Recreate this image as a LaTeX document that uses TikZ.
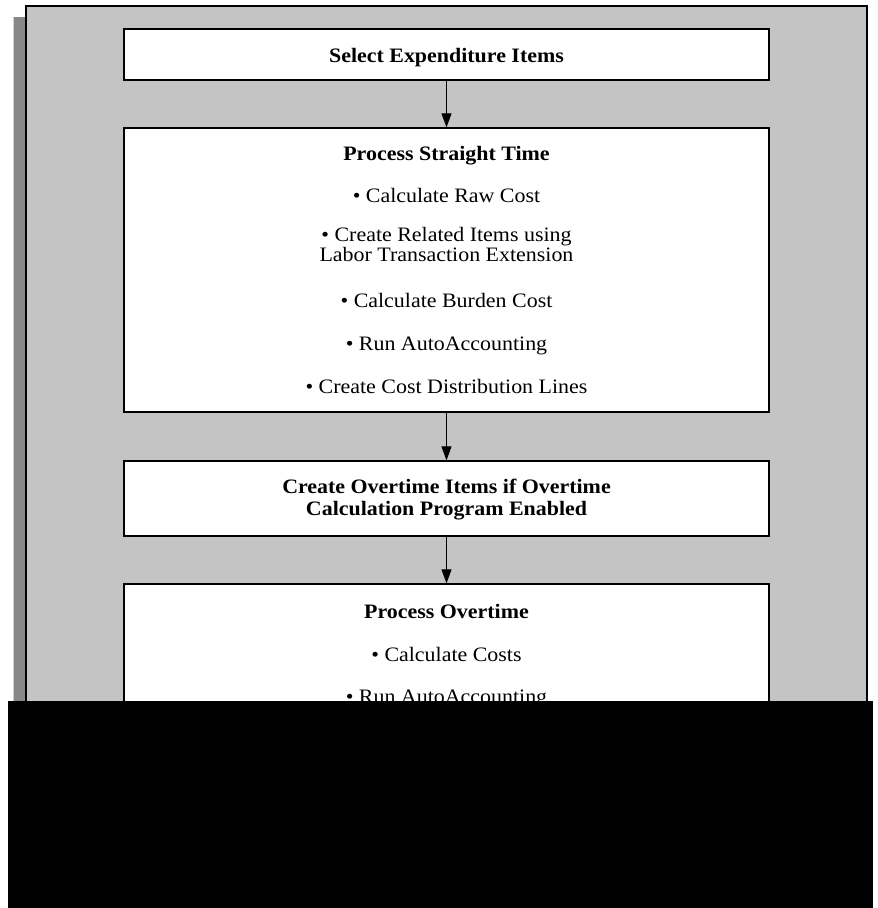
\documentclass[tikz,border=0pt]{standalone}
\usepackage{fontspec}
\setmainfont{Liberation Serif}[FakeStretch=1.07]
\usetikzlibrary{arrows.meta}
\definecolor{panelgray}{HTML}{C4C4C4}
\definecolor{shadowgray}{HTML}{888888}
\definecolor{rimgray}{HTML}{D0D0D0}
\begin{document}
\begin{tikzpicture}[x=1pt,y=-1pt,
  stepbox/.style={draw=black,line width=1.3pt,fill=white,minimum width=645pt,inner sep=0pt},
  title/.style={font=\fontsize{20.5}{22}\selectfont\bfseries,anchor=base,inner sep=0pt},
  item/.style={font=\fontsize{20.5}{22}\selectfont,anchor=base,inner sep=0pt},
  flow/.style={-{Triangle[length=14pt,width=10pt]},line width=0.9pt}]
\useasboundingbox (0,0) rectangle (878,908);

% drop shadow and grey panel
\fill[shadowgray] (13,17) rectangle (25,701);
\fill[rimgray] (12.5,17) rectangle (14,701);
\draw[line width=2.5pt,fill=panelgray] (26,6) rectangle (867,720);

% process boxes
\node[stepbox,minimum height=51pt]  (sel) at (446.5,54.5) {};
\node[stepbox,minimum height=284pt] (pst) at (446.5,270) {};
\node[stepbox,minimum height=75pt]  (cot) at (446.5,498.5) {};
\node[stepbox,minimum height=196pt] (pot) at (446.5,682) {};

% box texts
\node[title] (selT) at (446.5,62) {Select Expenditure Items};

\node[title] (pstT) at (446.5,160) {Process Straight Time};
\node[item] (pst1) at (446.5,202) {\textbullet{} Calculate Raw Cost};
\node[item,align=center,font=\fontsize{20.5}{18}\selectfont] (pst2) at (446.5,261)
  {\textbullet{} Create Related Items using\\Labor Transaction Extension};
\node[item] (pst4) at (446.5,307) {\textbullet{} Calculate Burden Cost};
\node[item] (pst5) at (446.5,350) {\textbullet{} Run AutoAccounting};
\node[item] (pst6) at (446.5,393) {\textbullet{} Create Cost Distribution Lines};

\node[title,align=center,font=\fontsize{20.5}{22}\selectfont\bfseries] (cot1) at (446.5,515)
  {Create Overtime Items if Overtime\\Calculation Program Enabled};

\node[title] (potT) at (446.5,618) {Process Overtime};
\node[item] (pot1) at (446.5,661) {\textbullet{} Calculate Costs};
\node[item] (pot2) at (446.5,703) {\textbullet{} Run AutoAccounting};

% connectors
\draw[flow] (sel.south) -- (pst.north);
\draw[flow] (pst.south) -- (cot.north);
\draw[flow] (cot.south) -- (pot.north);

% solid block over the lower part
\fill[black] (8,701) rectangle (873,908);
\end{tikzpicture}
\end{document}
